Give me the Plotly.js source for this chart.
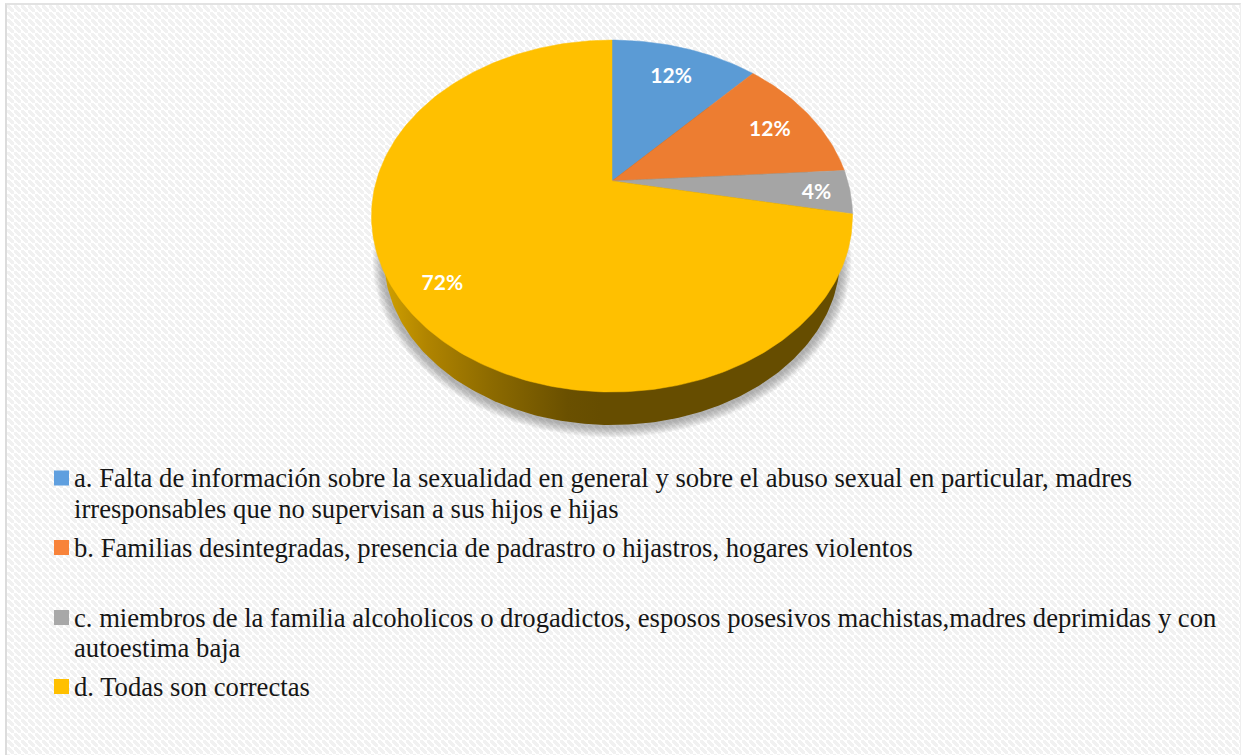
<!DOCTYPE html>
<html>
<head>
<meta charset="utf-8">
<script src="https://cdn.plot.ly/plotly-3.0.1.min.js"></script>
<style>
  html, body { margin: 0; padding: 0; background: #ffffff; overflow: hidden; }
  #frame {
    position: absolute; left: 5px; top: 3px; width: 1236px; height: 752px;
    box-sizing: border-box;
    border-left: 2px solid #dcdcdc; border-top: 2px solid #e2e2e2; border-right: 1px solid #efefef;
    /* 7px diagonal hatch tile, kept on whole pixels */
    background-image: url("data:image/svg+xml;utf8,<svg xmlns='http://www.w3.org/2000/svg' width='7' height='7' shape-rendering='crispEdges'><rect width='7' height='7' fill='white'/><path d='M0 0h3v1h1v1h1v1h1v1h1v3h-3v-1h-1v-1h-1v-1h-1v-1h-1z' fill='%23f1f1f1'/></svg>");
    background-repeat: repeat;
  }
  #chart { position: absolute; left: 0; top: 0; width: 1243px; height: 755px; }
</style>
</head>
<body>
<div id="frame"></div>
<div id="chart"></div>
<script>
// Survey shares, one per answer option
const categories = ["a", "b", "c", "d"];
const shares = [12, 12, 4, 72];
const sliceColors = ["#5b9bd5", "#ed7d31", "#a5a5a5", "#ffc000"];
const keyColors = ["#5f9fdf", "#f8833a", "#a8a8a8", "#ffc000"];
const legendLines = [
  ["a. Falta de información sobre la sexualidad en general y sobre el abuso sexual en particular, madres",
   "irresponsables que no supervisan a sus hijos e hijas"],
  ["b. Familias desintegradas, presencia de padrastro o hijastros, hogares violentos"],
  ["c. miembros de la familia alcoholicos o drogadictos, esposos posesivos machistas,madres deprimidas y con",
   "autoestima baja"],
  ["d. Todas son correctas"]
];

// Tilted-disc projection: apex on screen, horizontal/vertical scale, perspective strength
const apex = {x: 612, y: 181};
const scale = {x: 235.7, y: 169};
const persp = 0.199;
function project(angleDeg, r) {
  const a = angleDeg * Math.PI / 180;
  const u = r * Math.sin(a), v = r * Math.cos(a);
  const d = 1 + persp * v;
  return [apex.x + scale.x * u / d, apex.y - scale.y * v / d];
}
function ellipse(cx, cy, rx, ry) {
  const xs = [], ys = [];
  for (let t = 0; t <= 360; t += 1) {
    xs.push(cx + rx * Math.sin(t * Math.PI / 180));
    ys.push(cy - ry * Math.cos(t * Math.PI / 180));
  }
  return {x: xs, y: ys};
}

const traces = [];

// Soft shadow under the disc, built from stacked translucent ellipses
for (let i = 7; i >= 0; i--) {
  const e = ellipse(612, 261, 230 + i * 1.3, 167 + i * 1.3);
  traces.push({x: e.x, y: e.y, mode: "lines", line: {width: 0}, fill: "toself",
    fillcolor: "rgba(90,90,90,0.065)", hoverinfo: "skip", showlegend: false});
}

// Side wall of the disc: lit on the left, falling to deep brown toward the front
const wall = ellipse(612, 258, 228, 167);
traces.push({x: wall.x, y: wall.y, mode: "lines", line: {width: 0}, fill: "toself",
  fillgradient: {type: "horizontal", start: 384, stop: 600,
    colorscale: [[0, "#d0a000"], [0.2, "#b08400"], [0.5, "#8c6a00"], [0.85, "#6a5000"], [1, "#664d00"]]},
  hoverinfo: "skip", showlegend: false});

// Top face slices, clockwise from twelve o'clock
const total = shares.reduce((s, v) => s + v, 0);
let cum = 0;
const midAngles = [];
shares.forEach((v, i) => {
  const start = cum / total * 360, end = (cum + v) / total * 360;
  const xs = [apex.x], ys = [apex.y];
  const steps = Math.ceil(end - start);
  for (let k = 0; k <= steps; k++) {
    const p = project(start + (end - start) * k / steps, 1);
    xs.push(p[0]); ys.push(p[1]);
  }
  xs.push(apex.x); ys.push(apex.y);
  traces.push({x: xs, y: ys, mode: "lines", line: {width: 0.5, color: sliceColors[i]}, fill: "toself",
    fillcolor: sliceColors[i], name: categories[i], hoverinfo: "skip", showlegend: false});
  midAngles.push((start + end) / 2);
  cum += v;
});

// Percentage labels at each slice's mid-angle
const labelRadius = [0.78, 0.79, 0.86, 0.835];
const labelDrop = 3.5;
const labelPts = midAngles.map((m, i) => project(m, labelRadius[i]));
traces.push({x: labelPts.map(p => p[0]), y: labelPts.map(p => p[1] + labelDrop), mode: "text",
  text: shares.map(v => v + "%"), textposition: "middle center",
  textfont: {family: "Lato", size: 21, color: "#ffffff", weight: 700},
  hoverinfo: "skip", showlegend: false});

// Legend: square keys and hand-wrapped serif text
const keyX = 61.5, textX = 72;
const keyY = [478, 547.5, 617.5, 686.5];
const lineGap = 30.5;
traces.push({x: keyY.map(() => keyX), y: keyY, mode: "markers",
  marker: {symbol: "square", size: 15, color: keyColors, line: {width: 0}},
  hoverinfo: "skip", showlegend: false});

const annotations = [];
legendLines.forEach((lines, i) => {
  lines.forEach((line, j) => {
    annotations.push({x: textX, y: keyY[i] + j * lineGap, xref: "x", yref: "y", text: line,
      showarrow: false, xanchor: "left", yanchor: "middle", align: "left",
      font: {family: "Liberation Serif", size: 26.65, color: "#161616"}});
  });
});

const layout = {
  width: 1243, height: 755,
  margin: {l: 0, r: 0, t: 0, b: 0},
  paper_bgcolor: "rgba(0,0,0,0)", plot_bgcolor: "rgba(0,0,0,0)",
  xaxis: {range: [0, 1243], visible: false, fixedrange: true},
  yaxis: {range: [755, 0], visible: false, fixedrange: true},
  showlegend: false,
  annotations: annotations
};
Plotly.newPlot("chart", traces, layout, {displayModeBar: false, responsive: false});
</script>
</body>
</html>
